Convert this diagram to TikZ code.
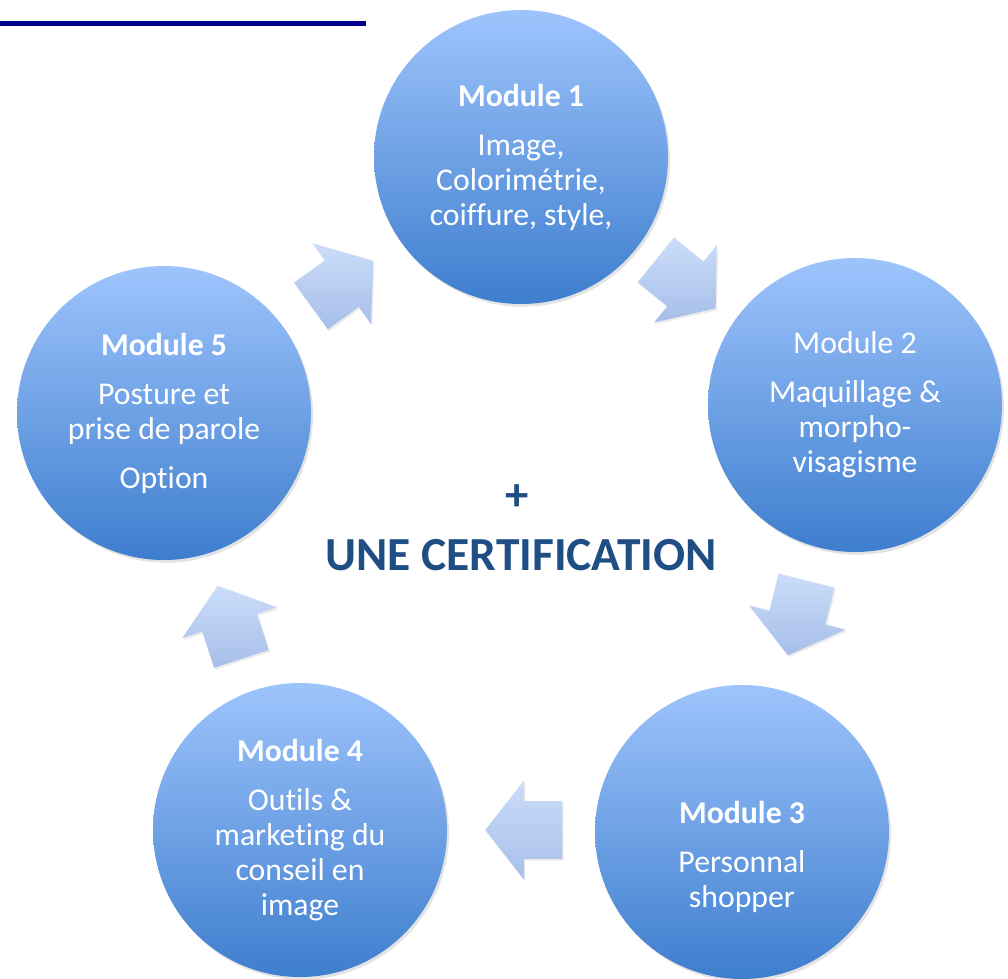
\documentclass[tikz,border=0pt]{standalone}
\usepackage{fontspec}
\setmainfont{Carlito}[Ligatures=NoCommon]
\usetikzlibrary{positioning,shapes.arrows,shadows}

\definecolor{circtop}{RGB}{158,196,252}
\definecolor{circbot}{RGB}{62,126,206}
\definecolor{arrtop}{RGB}{204,221,250}
\definecolor{arrbot}{RGB}{166,190,232}
\definecolor{certblue}{RGB}{31,78,132}
\definecolor{rulenavy}{RGB}{0,0,140}

\begin{document}
\begin{tikzpicture}[
  x=0.75pt, y=-0.75pt,
  modcircle/.style={circle, minimum size=220.5pt, inner sep=0pt,
                    top color=circtop, bottom color=circbot, draw=none,
                    drop shadow={shadow xshift=1.5pt, shadow yshift=-2pt, opacity=0.22},
                    text=white, align=center, font=\fontsize{23.8}{26.25}\selectfont},
  modtext/.style={text=white, align=center, font=\fontsize{23.8}{26.25}\selectfont},
  flowarrow/.style={single arrow, draw=none, inner xsep=0pt, inner ysep=21.4pt,
                    minimum width=0pt, minimum height=57.75pt,
                    single arrow head extend=15.75pt, single arrow tip angle=104,
                    top color=arrtop, bottom color=arrbot,
                    drop shadow={shadow xshift=1pt, shadow yshift=-1.5pt, opacity=0.15}}
]
\useasboundingbox (0,0) rectangle (1008,979);

% rule at the top left
\draw[rulenavy, line width=3.75pt] (0,23) -- (366,23);

% modules
\node[modcircle] (m1) at (521,157) {\textbf{Module 1}\\[10.5pt]Image,\\Colorimétrie,\\coiffure, style,};
\node[modcircle] (m2) at (855,405) {Module 2\\[10.5pt]Maquillage \&\\morpho-\\visagisme};
\node[modcircle] (m3) at (742,832) {};
\node[modtext] (t3) at ([yshift=-19pt]m3.center) {\textbf{Module 3}\\[10.5pt]Personnal\\shopper};
\node[modcircle] (m4) at (300,830) {\textbf{Module 4}\\[10.5pt]Outils \&\\marketing du\\conseil en\\image};
\node[modcircle] (m5) at (164,413) {\textbf{Module 5}\\[10.5pt]Posture et\\prise de parole\\[10.5pt]Option};

% arrows between modules
\node[flowarrow, rotate=36] (a51) at (333,290) {};
\node[flowarrow, rotate=-39] (a12) at (677,277) {};
\node[flowarrow, rotate=-104] (a23) at (800,607) {};
\node[flowarrow, rotate=180] (a34) at (535,830) {};
\node[flowarrow, rotate=108] (a45) at (233,633) {};

% centre
\node[text=certblue, font=\fontsize{35}{40}\selectfont\bfseries] (plus) at (517,498) {+};
\node[text=certblue, font=\fontsize{35.6}{40}\selectfont\bfseries] (cert) at (521,555) {UNE CERTIFICATION};
\end{tikzpicture}
\end{document}
